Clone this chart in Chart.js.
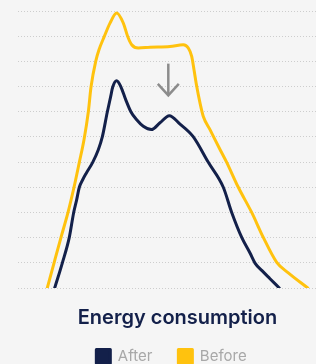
<!DOCTYPE html>
<html>
<head>
<meta charset="utf-8">
<script src="https://cdn.jsdelivr.net/npm/chart.js@4/dist/chart.umd.min.js"></script>
<style>
  html, body { margin: 0; padding: 0; background: #f5f5f5; overflow: hidden; width: 316px; height: 364px; }
  canvas { display: block; }
</style>
</head>
<body>
<canvas id="c" width="355" height="374"></canvas>
<script>
// Time axis (0–100 % of the observed period) and consumption index (0–110)
const beforeX = [9.54, 11.73, 14.01, 16.29, 18.24, 19.97, 21.50, 22.90, 23.78, 25.31, 26.38, 28.11, 29.97, 32.15, 34.30, 35.73, 37.04, 39.19, 43.0, 49.5, 53.84, 55.47, 56.58, 57.33, 58.21, 59.28, 60.36, 62.54, 65.80, 67.98, 71.76, 76.12, 79.90, 84.27, 88.05, 94.37];
const beforeY = [0, 9.9, 20.1, 30.0, 40.0, 49.9, 58.9, 69.9, 79.8, 90.0, 94.6, 99.9, 105.2, 109.2, 105.2, 99.9, 96.6, 95.3, 95.6, 95.9, 96.6, 95.3, 92.0, 86.7, 80.1, 73.5, 68.1, 62.9, 55.0, 49.9, 40.0, 30.0, 20.1, 10.2, 6.0, 0];
const afterX = [11.95, 14.43, 16.71, 18.14, 19.12, 19.97, 21.07, 22.28, 24.33, 26.16, 27.46, 29.09, 30.20, 30.85, 32.15, 33.55, 35.08, 36.81, 38.66, 40.81, 43.45, 46.25, 49.28, 52.77, 57.0, 61.99, 66.87, 69.61, 72.87, 75.57, 77.2, 79.48, 82.08, 85.11];
const afterY = [0, 9.9, 20.1, 30.0, 35.1, 40.0, 43.0, 45.7, 49.9, 54.9, 60.0, 69.9, 76.1, 79.8, 82.3, 79.8, 74.8, 69.9, 66.8, 64.2, 62.9, 65.6, 68.4, 65.1, 60.2, 49.9, 40.0, 30.0, 20.1, 13.9, 9.9, 6.9, 3.7, 0];
const yTicks = [0, 10, 20, 30, 40, 50, 60, 70, 80, 90, 100, 110];
const seriesNames = ['After', 'Before'];
const chartTitle = 'Energy consumption';
// Reduction arrow annotation (data units)
const arrowX = 48.96;
const arrowTop = 89.1;
const arrowTip = 76.5;

const NAVY = '#13204a';
const GOLD = '#ffc20e';

const toPoints = (xs, ys) => xs.map((x, i) => ({x, y: ys[i]}));

const arrowPlugin = {
  id: 'arrow',
  afterDatasetsDraw(chart) {
    const {ctx, scales: {x, y}} = chart;
    const px = x.getPixelForValue(arrowX);
    const pTop = y.getPixelForValue(arrowTop);
    const pTip = y.getPixelForValue(arrowTip);
    ctx.save();
    ctx.strokeStyle = '#8c8c8c';
    ctx.lineWidth = 2.5;
    ctx.lineCap = 'butt';
    ctx.lineJoin = 'miter';
    ctx.beginPath();
    ctx.moveTo(px, pTop);
    ctx.lineTo(px, pTip - 1);
    ctx.stroke();
    ctx.beginPath();
    ctx.moveTo(px - 10.5, pTip - 11.5);
    ctx.lineTo(px, pTip);
    ctx.lineTo(px + 10.5, pTip - 11.5);
    ctx.stroke();
    ctx.restore();
  }
};

new Chart(document.getElementById('c'), {
  type: 'line',
  data: {
    datasets: [
      { label: seriesNames[0], data: toPoints(afterX, afterY), borderColor: NAVY, backgroundColor: NAVY },
      { label: seriesNames[1], data: toPoints(beforeX, beforeY), borderColor: GOLD, backgroundColor: GOLD }
    ]
  },
  options: {
    responsive: false,
    animation: false,
    devicePixelRatio: 1,
    layout: { padding: { left: 0, right: 0, top: 11, bottom: 0 } },
    elements: {
      point: { radius: 0 },
      line: { borderWidth: 3, cubicInterpolationMode: 'monotone', borderCapStyle: 'round', borderJoinStyle: 'round' }
    },
    scales: {
      x: { type: 'linear', min: 0, max: 100, display: false },
      y: {
        type: 'linear', min: 0, max: 110, position: 'left',
        afterBuildTicks: (s) => { s.ticks = yTicks.map(v => ({value: v})); },
        afterFit: (s) => { s.width = 18; },
        ticks: { display: false },
        border: { display: false, dash: [1, 2] },
        grid: { color: '#cdcdcd', lineWidth: 1, drawTicks: false }
      },
      yRight: {
        type: 'linear', axis: 'y', min: 0, max: 110, position: 'right',
        afterFit: (s) => { s.width = 30; },
        ticks: { display: false },
        border: { display: false },
        grid: { display: false, drawTicks: false }
      }
    },
    plugins: {
      title: {
        display: true, text: chartTitle, position: 'bottom', weight: 500,
        color: NAVY, font: { family: 'Inter', size: 20, weight: '600', lineHeight: 1.2 },
        padding: { top: 18, bottom: -7 }
      },
      legend: {
        position: 'bottom', weight: 1000, fullSize: false,
        labels: {
          boxWidth: 14, boxHeight: 14, padding: 26, color: '#a8a8a8',
          font: { family: 'Inter', size: 15, weight: '400' }
        }
      },
      tooltip: { enabled: false }
    }
  },
  plugins: [arrowPlugin]
});
</script>
</body>
</html>
